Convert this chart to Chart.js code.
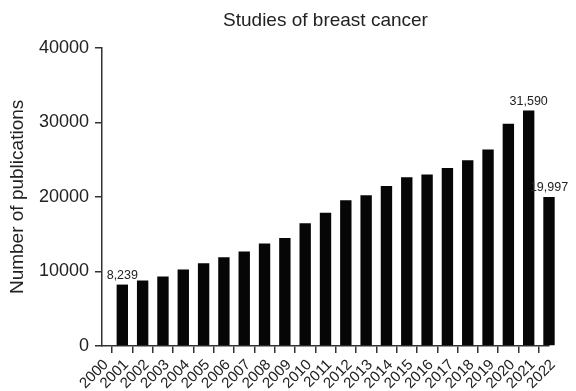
<!DOCTYPE html>
<html>
<head>
<meta charset="utf-8">
<script src="https://cdn.jsdelivr.net/npm/chart.js@4/dist/chart.umd.min.js"></script>
<style>
html,body{margin:0;padding:0;background:#fff;}
#wrap{width:576px;height:391px;}
</style>
</head>
<body>
<div id="wrap"><canvas id="c" width="576" height="391"></canvas></div>
<script>
// Tick labels (years) along the x axis
const years = ['2000','2001','2002','2003','2004','2005','2006','2007','2008','2009','2010','2011',
  '2012','2013','2014','2015','2016','2017','2018','2019','2020','2021','2022'];
// Number of publications per bar (first tick has no bar in the reference)
const publications = [null, 8239, 8784, 9322, 10264, 11111, 11918, 12685, 13761, 14474, 16451, 17878,
  19545, 20218, 21469, 22639, 22989, 23890, 24926, 26352, 29809, 31590, 19997];
// Bars that carry a value label
const labelledYears = ['2001', '2021', '2022'];
// y axis ticks
const yTicks = [0, 10000, 20000, 30000, 40000];

const FONT = '"Liberation Sans", Arial, Helvetica, sans-serif';
const TXT = '#222';
const AX = '#333';

const valueLabels = {
  id: 'valueLabels',
  afterDatasetsDraw(chart) {
    const ctx = chart.ctx;
    const meta = chart.getDatasetMeta(0);
    ctx.save();
    ctx.font = '12.5px ' + FONT;
    ctx.fillStyle = TXT;
    ctx.textAlign = 'center';
    ctx.textBaseline = 'bottom';
    labelledYears.forEach(y => {
      const i = years.indexOf(y);
      const el = meta.data[i];
      const txt = publications[i].toLocaleString('en-US');
      const w = ctx.measureText(txt).width;
      let x = el.x;
      if (x + w / 2 > chart.width - 1.5) x = chart.width - 1.5 - w / 2;
      ctx.fillText(txt, x, el.y - 3);
    });
    ctx.restore();
  }
};

new Chart(document.getElementById('c'), {
  type: 'bar',
  data: {
    labels: years,
    datasets: [{
      data: publications,
      backgroundColor: '#060606',
      borderWidth: 0,
      categoryPercentage: 1,
      barPercentage: 0.56,
      clip: false
    }]
  },
  options: {
    responsive: false,
    animation: false,
    devicePixelRatio: 1,
    layout: { padding: { left: 0, right: 27, top: 0, bottom: 0 } },
    plugins: {
      legend: { display: false },
      tooltip: { enabled: false },
      title: {
        display: true,
        text: 'Studies of breast cancer',
        fullSize: false,
        color: TXT,
        font: { family: FONT, size: 19, weight: 'normal' },
        padding: { top: 9, bottom: 16 }
      }
    },
    scales: {
      x: {
        type: 'category',
        offset: false,
        grid: { display: true, drawOnChartArea: false, drawTicks: true, tickLength: 7, color: AX, lineWidth: 1.5 },
        border: { display: true, color: AX, width: 1.5 },
        ticks: {
          autoSkip: false,
          maxRotation: 45,
          minRotation: 45,
          padding: 3,
          labelOffset: 4,
          color: TXT,
          font: { family: FONT, size: 15 }
        },
        afterFit(scale) { scale.height = 45; }
      },
      y: {
        min: 0,
        max: 40000,
        afterBuildTicks(scale) { scale.ticks = yTicks.map(v => ({ value: v })); },
        grid: { display: true, drawOnChartArea: false, drawTicks: true, tickLength: 7, color: AX, lineWidth: 1.5 },
        border: { display: true, color: AX, width: 1.5 },
        ticks: {
          padding: 6,
          color: TXT,
          font: { family: FONT, size: 18 },
          callback: v => String(v)
        },
        title: {
          display: true,
          text: 'Number of publications',
          color: TXT,
          font: { family: FONT, size: 19 },
          padding: { top: 6, bottom: 2 }
        },
        afterFit(scale) { scale.width = 102; }
      }
    }
  },
  plugins: [valueLabels]
});
</script>
</body>
</html>
